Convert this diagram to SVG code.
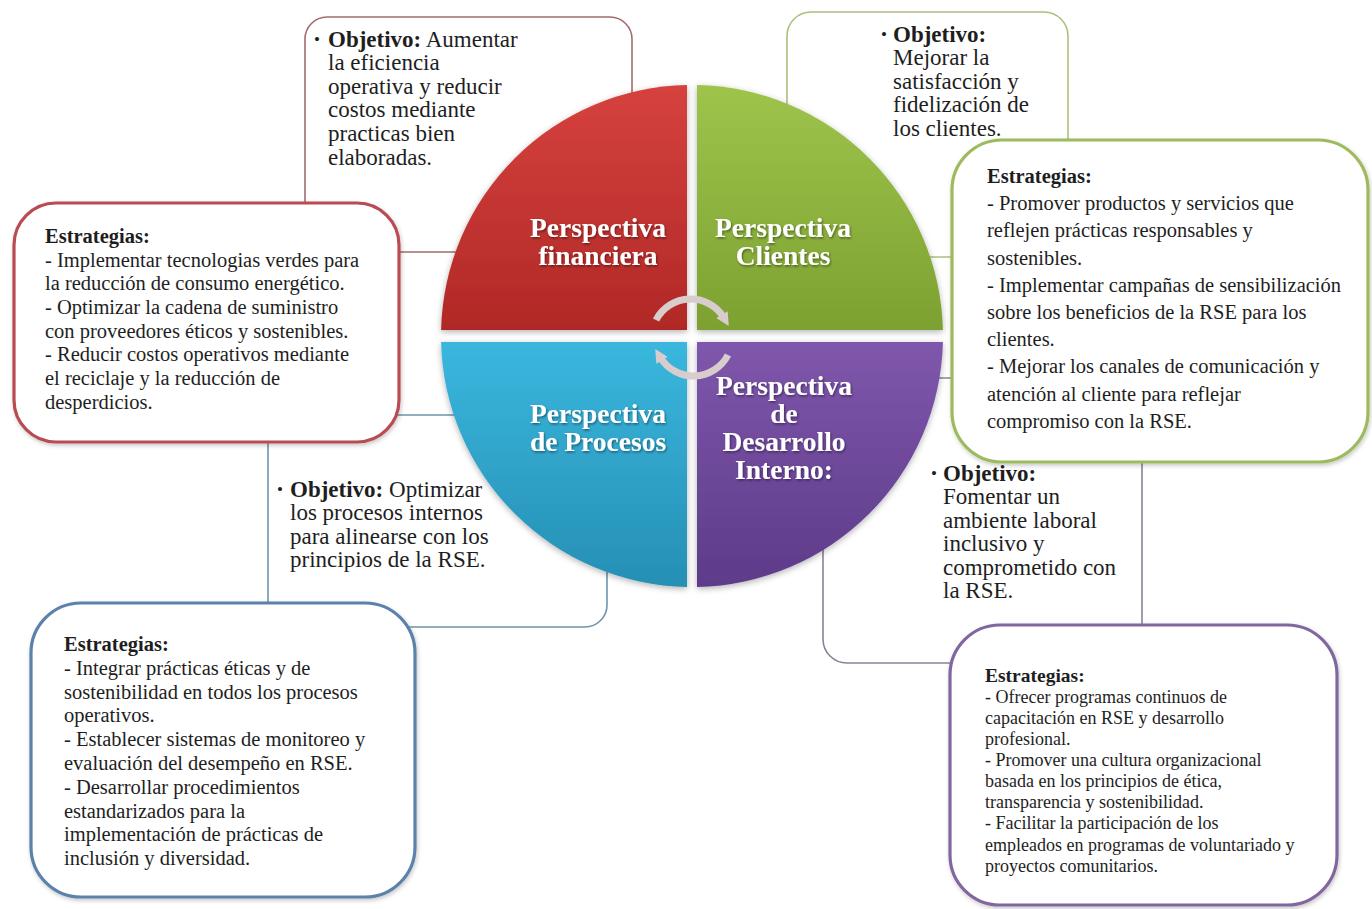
<svg xmlns="http://www.w3.org/2000/svg" width="1372" height="909" viewBox="0 0 1372 909">
<style>
text{font-family:"Liberation Serif","Times New Roman",serif;fill:#1e1e1e}
.obj{font-size:23px}
.st{font-size:20.5px}
.st4{font-size:18px}
.b{font-weight:bold}
.bul{font-size:17px}
.lbl{font-size:27.5px;font-weight:bold;fill:#ffffff;text-anchor:middle}
.ob{fill:#fff;stroke-width:1.6}
.sb{fill:#fff;stroke-width:3.2}
.arc{fill:none;stroke:#d8cccc;stroke-width:7;stroke-linecap:butt}
</style>
<defs>
<linearGradient id="gR" x1="0" y1="0" x2="0" y2="1"><stop offset="0" stop-color="#d6423f"/><stop offset="1" stop-color="#b02826"/></linearGradient>
<linearGradient id="gG" x1="0" y1="0" x2="0" y2="1"><stop offset="0" stop-color="#9fc44c"/><stop offset="1" stop-color="#7ca131"/></linearGradient>
<linearGradient id="gB" x1="0" y1="0" x2="0" y2="1"><stop offset="0" stop-color="#3ab7de"/><stop offset="1" stop-color="#268fb4"/></linearGradient>
<linearGradient id="gP" x1="0" y1="0" x2="0" y2="1"><stop offset="0" stop-color="#7f57ac"/><stop offset="1" stop-color="#5d3b89"/></linearGradient>
<filter id="sh" x="-10%" y="-10%" width="120%" height="120%"><feDropShadow dx="0" dy="2" stdDeviation="3" flood-color="#000" flood-opacity="0.3"/></filter>
<filter id="bsh" x="-10%" y="-10%" width="120%" height="120%"><feDropShadow dx="1" dy="2" stdDeviation="2" flood-color="#000" flood-opacity="0.22"/></filter>
<filter id="ts" x="-10%" y="-20%" width="120%" height="140%"><feDropShadow dx="1" dy="1.5" stdDeviation="1" flood-color="#000" flood-opacity="0.45"/></filter>
<marker id="ah" viewBox="0 0 10 10" refX="3" refY="5" markerWidth="1.9" markerHeight="1.9" orient="auto" markerUnits="strokeWidth"><path d="M0,0 L10,5 L0,10 z" fill="#d8cccc"/></marker>
</defs>

<!-- objective boxes (behind) -->
<g id="obj-financiera">
<rect class="ob" x="305" y="17" width="327" height="235" rx="22" stroke="#a36b70"/>
<text class="bul" x="314" y="45">•</text>
<text class="obj" x="328" y="47"><tspan class="b">Objetivo:</tspan> Aumentar</text>
<text class="obj" x="328" y="70">la eficiencia</text>
<text class="obj" x="328" y="94">operativa y reducir</text>
<text class="obj" x="328" y="117">costos mediante</text>
<text class="obj" x="328" y="141">practicas bien</text>
<text class="obj" x="328" y="165">elaboradas.</text>
</g>
<g id="obj-clientes">
<rect class="ob" x="787" y="12" width="281" height="245" rx="24" stroke="#abc07f"/>
<text class="bul" x="881" y="40">•</text>
<text class="obj b" x="893" y="42">Objetivo:</text>
<text class="obj" x="893" y="65">Mejorar la</text>
<text class="obj" x="893" y="89">satisfacción y</text>
<text class="obj" x="893" y="112">fidelización de</text>
<text class="obj" x="893" y="136">los clientes.</text>
</g>
<g id="obj-procesos">
<rect class="ob" x="268" y="415" width="339" height="212" rx="22" stroke="#6f95ac"/>
<text class="bul" x="277" y="495">•</text>
<text class="obj" x="290" y="497"><tspan class="b">Objetivo:</tspan> Optimizar</text>
<text class="obj" x="290" y="520">los procesos internos</text>
<text class="obj" x="290" y="544">para alinearse con los</text>
<text class="obj" x="290" y="567">principios de la RSE.</text>
</g>
<g id="obj-desarrollo">
<rect class="ob" x="823" y="378" width="319" height="285" rx="24" stroke="#8a8299"/>
<text class="bul" x="931" y="479">•</text>
<text class="obj b" x="943" y="481">Objetivo:</text>
<text class="obj" x="943" y="504">Fomentar un</text>
<text class="obj" x="943" y="528">ambiente laboral</text>
<text class="obj" x="943" y="551">inclusivo y</text>
<text class="obj" x="943" y="575">comprometido con</text>
<text class="obj" x="943" y="598">la RSE.</text>
</g>

<!-- strategy boxes -->
<g id="est-financiera">
<rect class="sb" x="14" y="203" width="385" height="239" rx="42" stroke="#b84c52" filter="url(#bsh)"/>
<text class="st b" x="45" y="243">Estrategias:</text>
<text class="st" x="45" y="267">- Implementar tecnologias verdes para</text>
<text class="st" x="45" y="290">la reducción de consumo energético.</text>
<text class="st" x="45" y="314">- Optimizar la cadena de suministro</text>
<text class="st" x="45" y="338">con proveedores éticos y sostenibles.</text>
<text class="st" x="45" y="361">- Reducir costos operativos mediante</text>
<text class="st" x="45" y="385">el reciclaje y la reducción de</text>
<text class="st" x="45" y="409">desperdicios.</text>
</g>
<g id="est-clientes">
<rect class="sb" x="952" y="140" width="416" height="322" rx="50" stroke="#9dbb5c" filter="url(#bsh)"/>
<text class="st b" x="987" y="183">Estrategias:</text>
<text class="st" x="987" y="210">- Promover productos y servicios que</text>
<text class="st" x="987" y="237">reflejen prácticas responsables y</text>
<text class="st" x="987" y="265">sostenibles.</text>
<text class="st" x="987" y="292">- Implementar campañas de sensibilización</text>
<text class="st" x="987" y="319">sobre los beneficios de la RSE para los</text>
<text class="st" x="987" y="346">clientes.</text>
<text class="st" x="987" y="373">- Mejorar los canales de comunicación y</text>
<text class="st" x="987" y="401">atención al cliente para reflejar</text>
<text class="st" x="987" y="428">compromiso con la RSE.</text>
</g>
<g id="est-procesos">
<rect class="sb" x="31" y="603" width="384" height="294" rx="50" stroke="#5c81aa" filter="url(#bsh)"/>
<text class="st b" x="64" y="651">Estrategias:</text>
<text class="st" x="64" y="675">- Integrar prácticas éticas y de</text>
<text class="st" x="64" y="699">sostenibilidad en todos los procesos</text>
<text class="st" x="64" y="722">operativos.</text>
<text class="st" x="64" y="746">- Establecer sistemas de monitoreo y</text>
<text class="st" x="64" y="770">evaluación del desempeño en RSE.</text>
<text class="st" x="64" y="794">- Desarrollar procedimientos</text>
<text class="st" x="64" y="818">estandarizados para la</text>
<text class="st" x="64" y="841">implementación de prácticas de</text>
<text class="st" x="64" y="865">inclusión y diversidad.</text>
</g>
<g id="est-desarrollo">
<rect class="sb" x="950" y="625" width="387" height="280" rx="50" stroke="#80689f" filter="url(#bsh)"/>
<text class="b" x="985" y="682" font-size="19.5">Estrategias:</text>
<text class="st4" x="985" y="703">- Ofrecer programas continuos de</text>
<text class="st4" x="985" y="724">capacitación en RSE y desarrollo</text>
<text class="st4" x="985" y="745">profesional.</text>
<text class="st4" x="985" y="766">- Promover una cultura organizacional</text>
<text class="st4" x="985" y="787">basada en los principios de ética,</text>
<text class="st4" x="985" y="808">transparencia y sostenibilidad.</text>
<text class="st4" x="985" y="829">- Facilitar la participación de los</text>
<text class="st4" x="985" y="851">empleados en programas de voluntariado y</text>
<text class="st4" x="985" y="872">proyectos comunitarios.</text>
</g>

<!-- circle quadrants -->
<g filter="url(#sh)">
<g id="q-financiera">
<path d="M687,330 L687,85.05 A251,251 0 0 0 441.07,330 Z" fill="url(#gR)"/>
<text class="lbl" x="598" y="237" filter="url(#ts)">Perspectiva</text>
<text class="lbl" x="598" y="265" filter="url(#ts)">financiera</text>
</g>
<g id="q-clientes">
<path d="M697,330 L942.93,330 A251,251 0 0 0 697,85.05 Z" fill="url(#gG)"/>
<text class="lbl" x="783" y="237" filter="url(#ts)">Perspectiva</text>
<text class="lbl" x="783" y="265" filter="url(#ts)">Clientes</text>
</g>
<g id="q-procesos">
<path d="M687,342 L441.07,342 A251,251 0 0 0 687,586.95 Z" fill="url(#gB)"/>
<text class="lbl" x="598" y="423" filter="url(#ts)">Perspectiva</text>
<text class="lbl" x="598" y="451" filter="url(#ts)">de Procesos</text>
</g>
<g id="q-desarrollo">
<path d="M697,342 L697,586.95 A251,251 0 0 0 942.93,342 Z" fill="url(#gP)"/>
<text class="lbl" x="784" y="395" filter="url(#ts)">Perspectiva</text>
<text class="lbl" x="784" y="423" filter="url(#ts)">de</text>
<text class="lbl" x="784" y="451" filter="url(#ts)">Desarrollo</text>
<text class="lbl" x="784" y="479" filter="url(#ts)">Interno:</text>
</g>
</g>

<!-- cycle arrows -->
<g id="connectors">
<path class="arc" d="M656,320 A39,39 0 0 1 724,318" marker-end="url(#ah)"/>
<path class="arc" d="M728,355 A39,39 0 0 1 660,357" marker-end="url(#ah)"/>
</g>
</svg>
